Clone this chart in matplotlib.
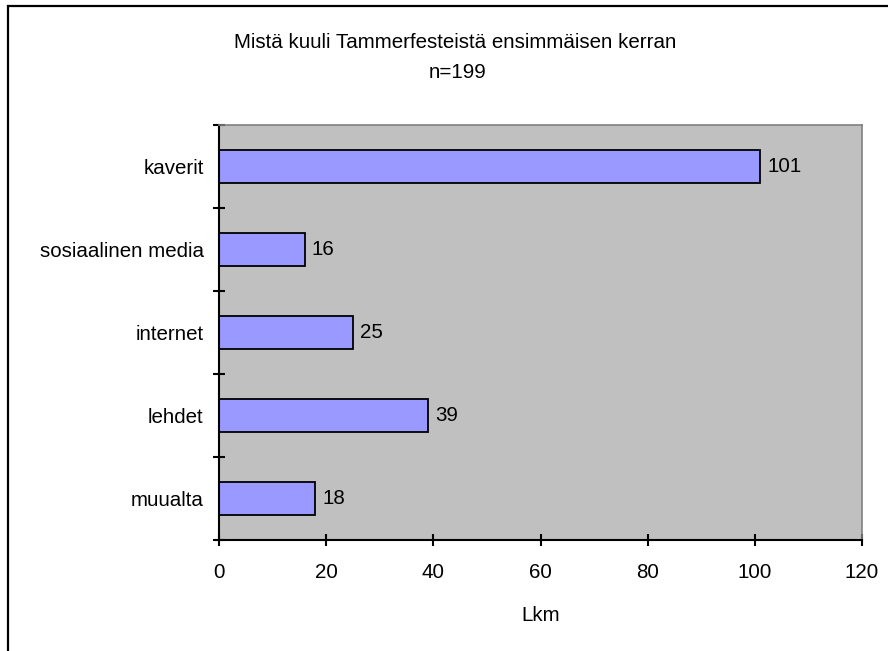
import matplotlib
matplotlib.use("Agg")
import matplotlib.pyplot as plt
from matplotlib.patches import Rectangle

categories = ["kaverit", "sosiaalinen media", "internet", "lehdet", "muualta"]
counts = [101, 16, 25, 39, 18]
x_ticks = [0, 20, 40, 60, 80, 100, 120]

plt.rcParams['font.family'] = ['Liberation Sans', 'DejaVu Sans']
fs = 14.8

fig = plt.figure(figsize=(8.88, 6.51), dpi=100)
ax = fig.add_axes([219/888, 1 - 540/651, (862 - 219)/888, (540 - 125)/651])
ax.set_facecolor('#C0C0C0')

pos = list(range(len(categories)))
ax.barh(pos, counts, height=0.4, color='#9999FF', edgecolor='black', linewidth=1.3)
for p, v in zip(pos, counts):
    ax.annotate(str(v), (v, p), xytext=(5, 0), textcoords='offset points',
                va='center', ha='left', fontsize=fs)

ax.set_xlim(0, 120)
ax.set_ylim(len(categories) - 0.5, -0.5)
ax.set_xticks(x_ticks)
ax.set_xticklabels([str(t) for t in x_ticks], fontsize=fs)
ax.set_yticks(pos)
ax.set_yticklabels(categories, fontsize=fs)
ax.set_yticks([p - 0.5 for p in pos] + [len(categories) - 0.5], minor=True)
ax.tick_params(axis='y', which='major', length=0, pad=11)
ax.tick_params(axis='y', which='minor', direction='inout', length=9, width=1.5)
ax.tick_params(axis='x', direction='inout', length=9, width=1.5, pad=12)

for side in ['top', 'right']:
    ax.spines[side].set_color('#808080')
    ax.spines[side].set_linewidth(1.2)
for side in ['left', 'bottom']:
    ax.spines[side].set_color('black')
    ax.spines[side].set_linewidth(1.5)

ax.set_xlabel("Lkm", fontsize=fs, labelpad=17)

fig.text(455/888, 1 - 43/651, "Mistä kuuli Tammerfesteistä ensimmäisen kerran",
         ha='center', va='center', fontsize=fs)
fig.text(458/888, 1 - 72/651, "n=199", ha='center', va='center', fontsize=fs)

# chart border, only top and left edges fall inside the image
fig.patches.append(Rectangle((8/888, -0.1), 1.1, 1 - 6/651 + 0.1,
                             transform=fig.transFigure, fill=False,
                             edgecolor='black', linewidth=1.6))

fig.savefig("out.png", dpi=100)
